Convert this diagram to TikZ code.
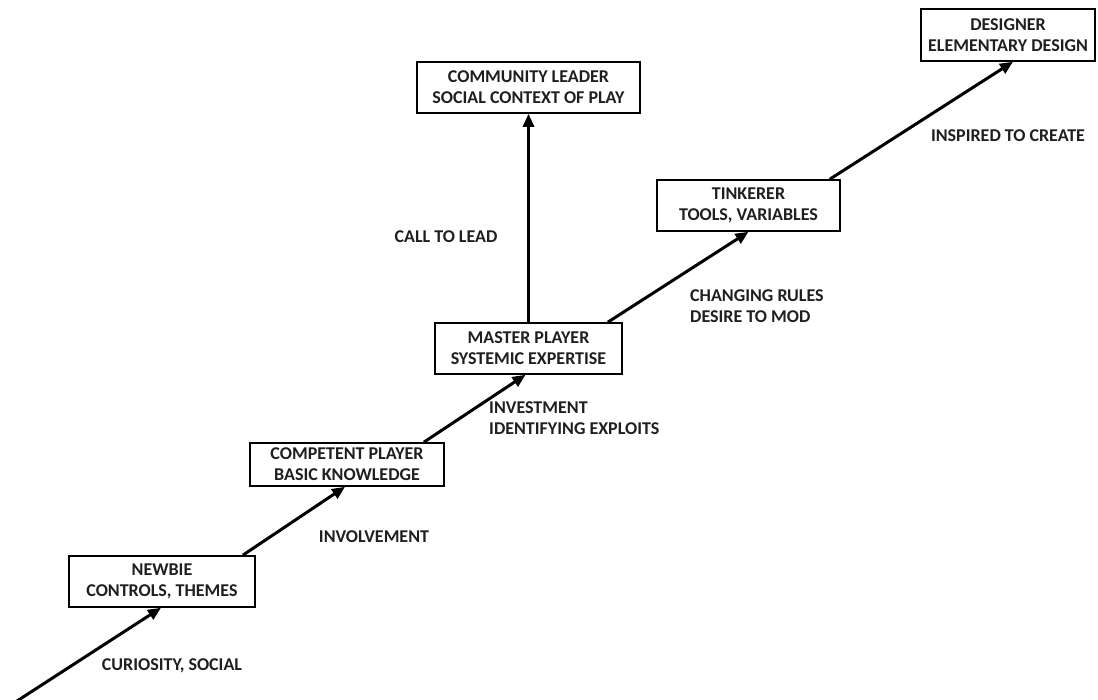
\documentclass[tikz,border=0pt]{standalone}
\usepackage{fontspec}
\setmainfont{Carlito}
\usetikzlibrary{arrows.meta,calc}

\tikzset{
  x=1pt, y=1pt,
  stage/.style={draw=black, line width=1.6pt, fill=white, align=center,
    inner sep=0pt, font=\bfseries\fontsize{18}{21}\selectfont,
    text=black!88},
  lbl/.style={align=left, inner sep=0pt,
    font=\bfseries\fontsize{18}{21}\selectfont, text=black!88},
  flow/.style={line width=3pt, -{Triangle[length=13pt,width=11pt]}}
}

\begin{document}
\begin{tikzpicture}
\useasboundingbox (0,0) rectangle (1098,699);

% stage boxes
\node[stage, minimum width=186, minimum height=51] (newbie) at (162,117.5)
  {NEWBIE\\CONTROLS, THEMES};
\node[stage, minimum width=194, minimum height=43] (competent) at (347,234.5)
  {COMPETENT PLAYER\\BASIC KNOWLEDGE};
\node[stage, minimum width=187, minimum height=51] (master) at (528.5,350.5)
  {MASTER PLAYER\\SYSTEMIC EXPERTISE};
\node[stage, minimum width=223, minimum height=51] (community) at (528.5,611.5)
  {COMMUNITY LEADER\\SOCIAL CONTEXT OF PLAY};
\node[stage, minimum width=183, minimum height=51] (tinkerer) at (748.5,493.5)
  {TINKERER\\TOOLS, VARIABLES};
\node[stage, minimum width=174, minimum height=52] (designer) at (1008,664)
  {DESIGNER\\ELEMENTARY DESIGN};

% connectors
\coordinate (origin) at (17,-2);
\draw[flow] (origin) -- ($(newbie.south)+(-1,0)$);
\draw[flow] ($(newbie.north east)+(-13,0)$) -- ($(competent.south)+(-2,0)$);
\draw[flow] ($(competent.north east)+(-21,0)$) -- ($(master.south)+(-3,0)$);
\draw[flow] (master.north) -- (community.south);
\draw[flow] ($(master.north east)+(-15,0)$) -- (tinkerer.south);
\draw[flow] ($(tinkerer.north east)+(-11,0)$) -- ($(designer.south)+(5,0)$);

% transition labels
\node[lbl] (l1) at (172,33) {CURIOSITY, SOCIAL};
\node[lbl] (l2) at (374,162) {INVOLVEMENT};
\node[lbl, anchor=west] (l3) at (489,281) {INVESTMENT\\IDENTIFYING EXPLOITS};
\node[lbl] (l4) at (446,462) {CALL TO LEAD};
\node[lbl, anchor=west] (l5) at (690,393) {CHANGING RULES\\DESIRE TO MOD};
\node[lbl] (l6) at (1008,563) {INSPIRED TO CREATE};
\end{tikzpicture}
\end{document}
